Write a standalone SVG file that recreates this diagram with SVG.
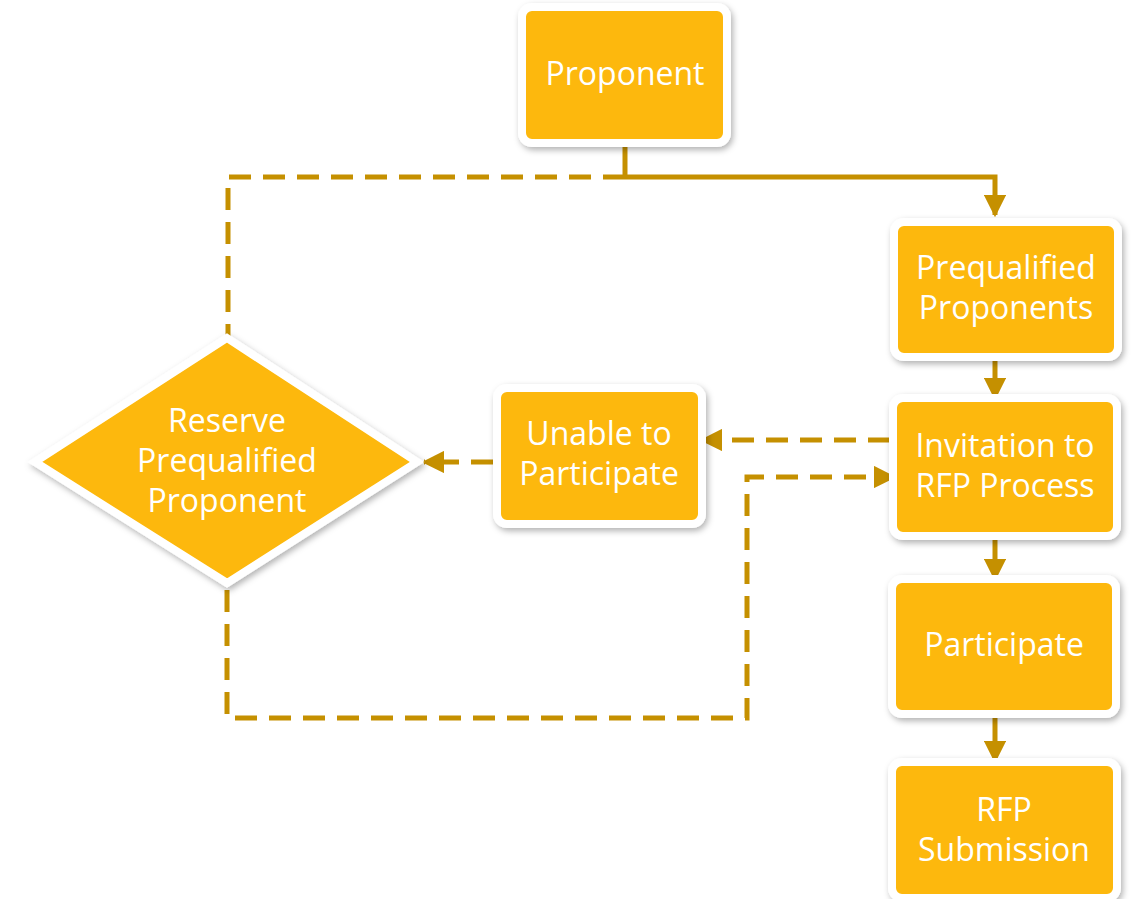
<svg xmlns="http://www.w3.org/2000/svg" width="1132" height="899" viewBox="0 0 1132 899">
<defs>
<filter id="sh" x="-20%" y="-20%" width="140%" height="140%">
<feDropShadow dx="2" dy="3" stdDeviation="3" flood-color="#000" flood-opacity="0.3"/>
</filter>
<marker id="ah" viewBox="0 0 10 10" refX="9" refY="5" markerWidth="4.5" markerHeight="4.5" orient="auto" markerUnits="strokeWidth">
<path d="M0,0 L10,5 L0,10 z" fill="#C59000"/>
</marker>
</defs>
<style>
.box{fill:#FDB80B;stroke:#fff;stroke-width:8;filter:url(#sh)}
.t{font-family:"Open Sans","Noto Sans",sans-serif;font-size:32px;fill:#fff;text-anchor:middle}
.c{fill:none;stroke:#C59000;stroke-width:5}
.d{stroke-dasharray:22 12}
</style>
<g id="connectors">
<path class="c" d="M625,147 V177"/>
<path class="c" d="M625,177 H995 V215" marker-end="url(#ah)"/>
<path class="c d" d="M625,177 H228 V338"/>
<path class="c" d="M995,361 V398" marker-end="url(#ah)"/>
<path class="c" d="M995,540 V579" marker-end="url(#ah)"/>
<path class="c" d="M995,718 V761" marker-end="url(#ah)"/>
<path class="c d" d="M890,440 H702" marker-end="url(#ah)"/>
<path class="c d" d="M493,462 H424" marker-end="url(#ah)"/>
<path class="c d" d="M227,590 V718 H747 V477 H894" marker-end="url(#ah)"/>
</g>
<g id="proponent">
<rect class="box" x="522" y="7" width="205" height="136" rx="10"/>
<text class="t" x="625" y="85">Proponent</text>
</g>
<g id="prequalified">
<rect class="box" x="894" y="222" width="224" height="135" rx="10"/>
<text class="t" x="1006" y="279">Prequalified</text>
<text class="t" x="1006" y="319">Proponents</text>
</g>
<g id="invitation">
<rect class="box" x="893" y="398" width="224" height="138" rx="10"/>
<text class="t" x="1005" y="457">Invitation to</text>
<text class="t" x="1005" y="497">RFP Process</text>
</g>
<g id="participate">
<rect class="box" x="892" y="579" width="224" height="135" rx="10"/>
<text class="t" x="1004" y="656">Participate</text>
</g>
<g id="rfp-submission">
<rect class="box" x="892" y="762" width="225" height="136" rx="10"/>
<text class="t" x="1004" y="821">RFP</text>
<text class="t" x="1004" y="861">Submission</text>
</g>
<g id="unable">
<rect class="box" x="497" y="388" width="205" height="136" rx="10"/>
<text class="t" x="599" y="445">Unable to</text>
<text class="t" x="599" y="485">Participate</text>
</g>
<g id="reserve">
<polygon class="box" points="227,338 417,462 227,583 35,462"/>
<text class="t" x="227" y="432">Reserve</text>
<text class="t" x="227" y="472">Prequalified</text>
<text class="t" x="227" y="512">Proponent</text>
</g>
</svg>
